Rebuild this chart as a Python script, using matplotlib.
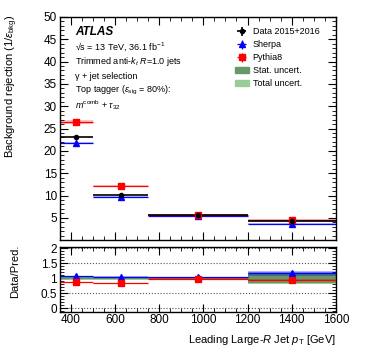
import matplotlib
matplotlib.use("Agg")
import matplotlib.pyplot as plt
from matplotlib.ticker import MultipleLocator, FixedLocator, FixedFormatter
from matplotlib.patches import Patch
import numpy as np

plt.rcParams['font.family'] = ['Liberation Sans', 'DejaVu Sans']
plt.rcParams['mathtext.fontset'] = 'custom'
plt.rcParams['mathtext.rm'] = 'Liberation Sans'
plt.rcParams['mathtext.it'] = 'Liberation Sans:italic'
plt.rcParams['mathtext.bf'] = 'Liberation Sans:bold'

# binning in leading large-R jet pT [GeV]
bin_edges = [350, 500, 750, 1200, 1600]

# background rejection values and errors
data_vals = [23.2, 10.2, 5.6, 4.3]
data_errs = [0.4, 0.25, 0.15, 0.25]
sherpa_vals = [21.7, 9.65, 5.45, 3.7]
sherpa_errs = [0.25, 0.15, 0.1, 0.25]
pythia_vals = [26.5, 12.2, 5.7, 4.6]
pythia_errs = [0.4, 0.2, 0.12, 0.15]

# ratio panel: data uncertainties around 1
stat_unc = [0.03, 0.03, 0.03, 0.15]
total_unc = [0.05, 0.05, 0.05, 0.2]

edges = np.array(bin_edges, dtype=float)
centers = 0.5 * (edges[1:] + edges[:-1])
widths = edges[1:] - edges[:-1]
data_vals = np.array(data_vals)
data_errs = np.array(data_errs)
sherpa_vals = np.array(sherpa_vals)
sherpa_errs = np.array(sherpa_errs)
pythia_vals = np.array(pythia_vals)
pythia_errs = np.array(pythia_errs)

stat_col = '#669966'
tot_col = '#99cc99'

fig = plt.figure(figsize=(3.74, 3.59), dpi=100)
ax = fig.add_axes([0.160, 0.331, 0.738, 0.622])
rax = fig.add_axes([0.160, 0.132, 0.738, 0.180])

# main panel: MC bands and lines
for vals, errs, col in [(sherpa_vals, sherpa_errs, 'blue'),
                        (pythia_vals, pythia_errs, 'red')]:
    ax.bar(centers, 2 * errs, bottom=vals - errs, width=widths,
           color=col, alpha=0.25, linewidth=0)
ax.errorbar(centers, sherpa_vals, xerr=widths / 2, yerr=sherpa_errs, fmt='^',
            color='blue', ms=4.5, lw=0.9, capsize=0)
ax.errorbar(centers, pythia_vals, xerr=widths / 2, yerr=pythia_errs, fmt='s',
            color='red', ms=4.5, lw=0.9, capsize=0)
ax.errorbar(centers, data_vals, xerr=widths / 2, yerr=data_errs, fmt='o',
            color='black', ms=3, lw=1.2, capsize=0)

ax.set_xlim(350, 1600)
ax.set_ylim(0, 50)
ax.yaxis.set_major_locator(FixedLocator([5, 10, 15, 20, 25, 30, 35, 40, 45, 50]))
ax.yaxis.set_minor_locator(MultipleLocator(1))
ax.xaxis.set_major_locator(MultipleLocator(200))
ax.xaxis.set_minor_locator(MultipleLocator(50))
ax.tick_params(labelbottom=False)

# ratio panel
r_sherpa = data_vals / sherpa_vals
r_pythia = data_vals / pythia_vals
r_sherpa_err = r_sherpa * sherpa_errs / sherpa_vals
r_pythia_err = r_pythia * pythia_errs / pythia_vals

for y in [0, 0.5, 1.0, 1.5, 2.0]:
    rax.axhline(y, color='#555555', ls=':', lw=0.8, zorder=0)
rax.bar(centers, 2 * np.array(total_unc), bottom=1 - np.array(total_unc),
        width=widths, color=tot_col, linewidth=0, zorder=1)
rax.bar(centers, 2 * np.array(stat_unc), bottom=1 - np.array(stat_unc),
        width=widths, color=stat_col, linewidth=0, zorder=2)
rax.bar(centers, 2 * r_sherpa_err, bottom=r_sherpa - r_sherpa_err, width=widths,
        color='blue', alpha=0.3, linewidth=0, zorder=3)
rax.bar(centers, 2 * r_pythia_err, bottom=r_pythia - r_pythia_err, width=widths,
        color='red', alpha=0.3, linewidth=0, zorder=3)
rax.errorbar(centers, r_sherpa, xerr=widths / 2, yerr=r_sherpa_err, fmt='^',
             color='blue', ms=4.5, lw=0.9, capsize=0, zorder=4)
rax.errorbar(centers, r_pythia, xerr=widths / 2, yerr=r_pythia_err, fmt='s',
             color='red', ms=4.5, lw=0.9, capsize=0, zorder=4)

rax.set_xlim(350, 1600)
rax.set_ylim(-0.12, 2.05)
rax.yaxis.set_major_locator(FixedLocator([0, 0.5, 1, 1.5, 2]))
rax.yaxis.set_major_formatter(FixedFormatter(['0', '0.5', '1', '1.5', '2']))
rax.yaxis.set_minor_locator(MultipleLocator(0.1))
rax.xaxis.set_major_locator(MultipleLocator(200))
rax.xaxis.set_minor_locator(MultipleLocator(50))

for a in (ax, rax):
    a.tick_params(which='both', direction='in', top=True, right=True, labelsize=8.5, pad=2)
    a.tick_params(which='major', length=6)
    a.tick_params(which='minor', length=3)
    for s in a.spines.values():
        s.set_linewidth(1.0)

ax.set_ylabel(r"Background rejection (1/$\varepsilon_{\rm bkg}$)", fontsize=8, loc='top')
ax.yaxis.set_label_coords(-0.145, 1.01)
rax.set_ylabel("Data/Pred.", fontsize=8, loc='top')
rax.yaxis.set_label_coords(-0.145, 1.03)
rax.set_xlabel(r"Leading Large-$R$ Jet $p_{\rm T}$ [GeV]", fontsize=8, loc='right')
rax.xaxis.set_label_coords(1.0, -0.33)

# annotations
tx = 0.054
ax.text(tx, 0.933, "ATLAS", transform=ax.transAxes, fontsize=8.5, fontweight='bold',
        style='italic', va='center')
lines = ["√s = 13 TeV, 36.1 fb$^{-1}$",
         r"Trimmed anti-$k_{t}$ $R$=1.0 jets",
         "γ + jet selection",
         r"Top tagger ($\varepsilon_{\rm sig}$ = 80%):",
         r"$m^{\rm comb}$ + $\tau_{32}$"]
for i, t in enumerate(lines):
    ax.text(tx, 0.867 - i * 0.066, t, transform=ax.transAxes, fontsize=6.5, va='center')

# legend
h_data = ax.errorbar([], [], xerr=[], yerr=[], fmt='o', color='black', ms=3, lw=1.2)
h_sh = ax.errorbar([], [], xerr=[], yerr=[], fmt='^', color='blue', ms=4.5, lw=0.9)
h_py = ax.errorbar([], [], xerr=[], yerr=[], fmt='s', color='red', ms=4.5, lw=0.9)
h_stat = Patch(color=stat_col)
h_tot = Patch(color=tot_col)
ax.legend([h_data, h_sh, h_py, h_stat, h_tot],
          ["Data 2015+2016", "Sherpa", "Pythia8", "Stat. uncert.", "Total uncert."],
          loc='upper left', bbox_to_anchor=(0.62, 0.97), frameon=False, fontsize=6.5,
          handlelength=1.6, handletextpad=0.4, labelspacing=0.45, borderaxespad=0)

fig.savefig("out.png", dpi=100)
